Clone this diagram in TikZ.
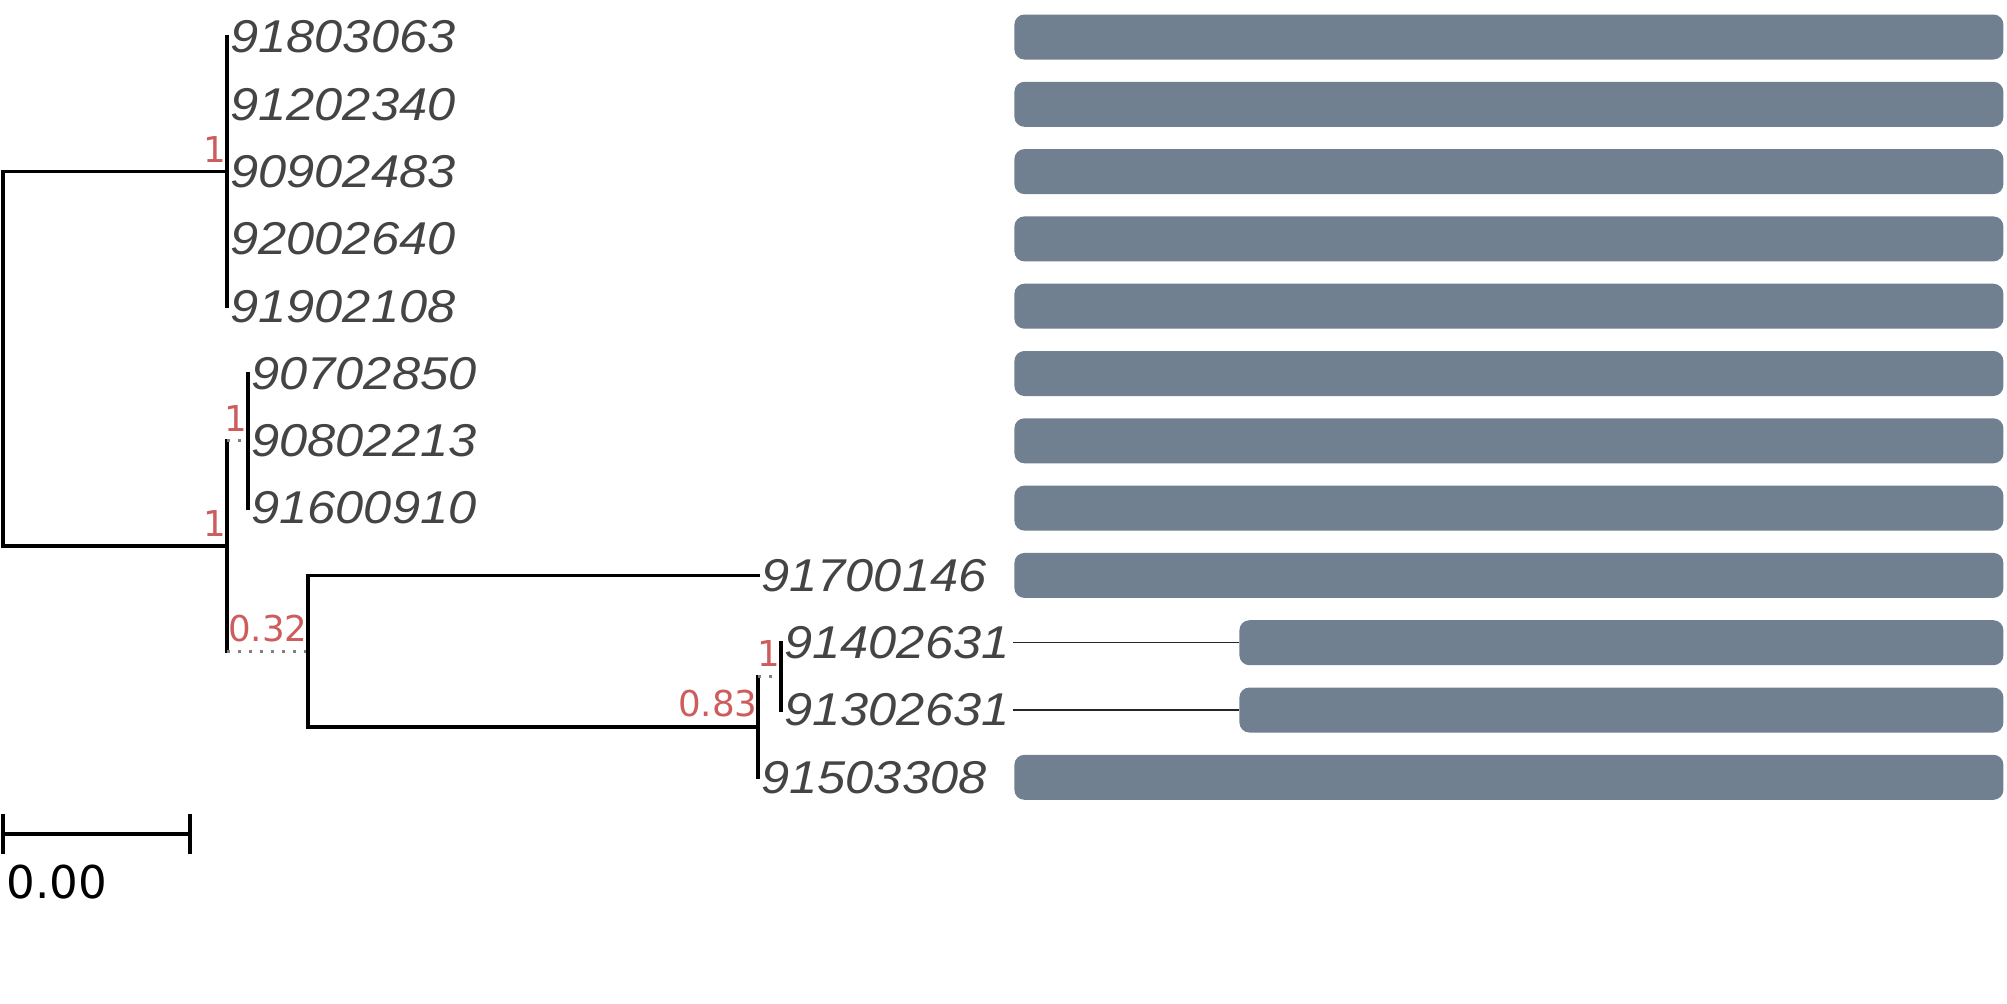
\documentclass[tikz,border=0pt]{standalone}
\usepackage{fontspec}
\setmainfont{DejaVu Sans}
\newfontfamily\leaffont[FakeStretch=1.1]{Liberation Sans}
\usetikzlibrary{positioning}
\definecolor{tiptext}{HTML}{444444}
\definecolor{bootred}{HTML}{CD5C5C}
\definecolor{barslate}{HTML}{708090}
\definecolor{dotgray}{HTML}{808080}

\begin{document}
\begin{tikzpicture}[x=0.5pt, y=-0.5pt,
    tip/.style={anchor=west, inner xsep=1.5pt, inner ysep=0pt, text=tiptext,
      font=\leaffont\itshape\fontsize{23}{23}\selectfont},
    boot/.style={anchor=south east, inner sep=0pt, yshift=4.5pt, text=bootred,
      font=\fontsize{17.8}{17.8}\selectfont},
    branch/.style={line width=1.7pt, line cap=rect},
    short/.style={dotgray, line width=1.6pt, dash pattern=on 1.6pt off 3.9pt},
    seqbar/.style={fill=barslate, rounded corners=5pt, minimum height=22.5pt,
      anchor=west, inner sep=0pt},
    link/.style={black!85, line width=0.6pt}
  ]
  \useasboundingbox (0,0) rectangle (2007,1003);
  % inner nodes
  \coordinate (root) at (3,358.8);
  \coordinate (nA) at (227,171.6);
  \coordinate (nB) at (227,546);
  \coordinate (nB1) at (248,440.8);
  \coordinate (nC) at (308,651.1);
  \coordinate (nD) at (758,726.8);
  \coordinate (nE) at (781,676.35);
  % tips
  \node[tip] (t1) at (227,37) {91803063};
  \node[tip] (t2) at (227,104.3) {91202340};
  \node[tip] (t3) at (227,171.6) {90902483};
  \node[tip] (t4) at (227,238.9) {92002640};
  \node[tip] (t5) at (227,306.2) {91902108};
  \node[tip] (t6) at (248,373.5) {90702850};
  \node[tip] (t7) at (248,440.8) {90802213};
  \node[tip] (t8) at (248,508.1) {91600910};
  \node[tip] (t9) at (758,575.4) {91700146};
  \node[tip] (t10) at (781,642.7) {91402631};
  \node[tip] (t11) at (781,710) {91302631};
  \node[tip] (t12) at (758,777.3) {91503308};
  % branches
  \draw[branch] (nA) -- (nA -| root) -- (nB -| root) -- (nB);
  \draw[branch] (t1.west) -- (t5.west);
  \draw[branch] (nB1 -| nB) -- (nC -| nB);
  \draw[short] (nB1 -| nB) -- (nB1);
  \draw[short] (nC -| nB) -- (nC);
  \draw[branch] (t6.west) -- (t8.west);
  \draw[branch] (t9.west -| nC) -- (nD -| nC);
  \draw[branch] (nC |- t9.west) -- (t9.west);
  \draw[branch] (nD -| nC) -- (nD);
  \draw[branch] (nE -| nD) -- (t12.west);
  \draw[short] (nE -| nD) -- (nE);
  \draw[branch] (t10.west) -- (t11.west);
  % support values
  \node[boot] (bA) at (nA) {1};
  \node[boot] (bB) at (nB) {1};
  \node[boot] (bB1) at (nB1) {1};
  \node[boot] (bC) at (nC) {0.32};
  \node[boot] (bD) at (nD) {0.83};
  \node[boot] (bE) at (nE) {1};
  % alignment bars
  \node[seqbar, minimum width=494.5pt] (s1) at (1014,37) {};
  \node[seqbar, minimum width=494.5pt] (s2) at (1014,104.3) {};
  \node[seqbar, minimum width=494.5pt] (s3) at (1014,171.6) {};
  \node[seqbar, minimum width=494.5pt] (s4) at (1014,238.9) {};
  \node[seqbar, minimum width=494.5pt] (s5) at (1014,306.2) {};
  \node[seqbar, minimum width=494.5pt] (s6) at (1014,373.5) {};
  \node[seqbar, minimum width=494.5pt] (s7) at (1014,440.8) {};
  \node[seqbar, minimum width=494.5pt] (s8) at (1014,508.1) {};
  \node[seqbar, minimum width=494.5pt] (s9) at (1014,575.4) {};
  \node[seqbar, minimum width=382pt] (s10) at (1239,642.7) {};
  \node[seqbar, minimum width=382pt] (s11) at (1239,710) {};
  \node[seqbar, minimum width=494.5pt] (s12) at (1014,777.3) {};
  \draw[link] (t10.east) -- (s10.west);
  \draw[link] (t11.east) -- (s11.west);
  % scale
  \coordinate (sl) at (3,834);
  \coordinate (sr) at (190,834);
  \draw[branch, line cap=butt] (sl) -- (sr);
  \draw[branch, line cap=butt] ([yshift=10pt]sl) -- ([yshift=-10pt]sl);
  \draw[branch, line cap=butt] ([yshift=10pt]sr) -- ([yshift=-10pt]sr);
  \node[anchor=north west, inner sep=0pt, font=\fontsize{22.6}{22.6}\selectfont]
    (scale) at ([xshift=1.5pt, yshift=-15.5pt]sl) {0.00};
\end{tikzpicture}
\end{document}
